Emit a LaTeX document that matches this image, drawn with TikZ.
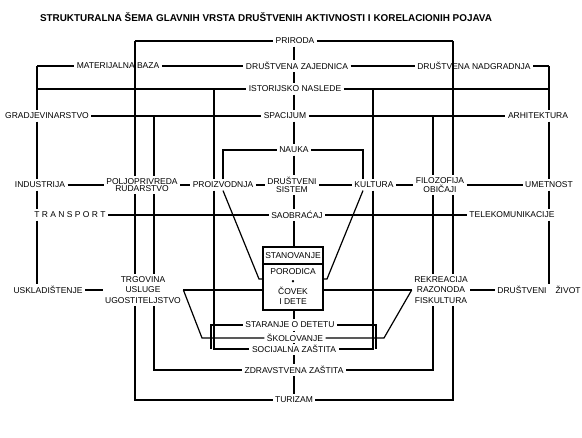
\documentclass[tikz,border=0pt]{standalone}
\usepackage{fontspec}
\setmainfont{Liberation Sans}
\begin{document}
\begin{tikzpicture}[x=1pt, y=-1pt, line width=1.2pt,
    lbl/.style={inner sep=2pt, align=center, font=\fontsize{8.5}{7.5}\selectfont},
    tall/.style={lbl, font=\fontsize{8.5}{10.5}\selectfont},
    cell/.style={draw, inner sep=0pt, outer sep=0pt, minimum width=60pt, align=center, font=\fontsize{8.5}{10}\selectfont}]
    \useasboundingbox (0,0) rectangle (582,438);

    \node[font=\bfseries\fontsize{9.9}{11}\selectfont] (title) at (266,17) {STRUKTURALNA ŠEMA GLAVNIH VRSTA DRUŠTVENIH AKTIVNOSTI I KORELACIONIH POJAVA};

    % corners and free ends of the lines
    \coordinate (cx) at (294,0);
    \coordinate (pl) at (135,41);  \coordinate (pr) at (453,41);
    \coordinate (ml) at (37,66);   \coordinate (mr) at (549,66);
    \coordinate (il) at (37,89);   \coordinate (ir) at (549,89);
    \coordinate (i1) at (214,89);  \coordinate (i2) at (373,89);
    \coordinate (g1) at (154,116); \coordinate (g2) at (433,116);
    \coordinate (nl) at (223,150); \coordinate (nr) at (363,150);
    \coordinate (dl) at (259,279); \coordinate (dr) at (327,279);
    \coordinate (bl) at (211,325); \coordinate (br) at (376,325);
    \coordinate (sl) at (202,338); \coordinate (sr) at (384,338);
    \coordinate (cl) at (214,349); \coordinate (cr) at (373,349);
    \coordinate (zl) at (154,370); \coordinate (zr) at (433,370);
    \coordinate (tl) at (135,400); \coordinate (tr) at (453,400);

    % upper rows
    \node[lbl] (prir) at (295,41) {PRIRODA};
    \node[lbl] (matb) at (118,66) {MATERIJALNA BAZA};
    \node[lbl] (drzaj) at (297,66) {DRUŠTVENA ZAJEDNICA};
    \node[lbl] (drnad) at (474,66) {DRUŠTVENA NADGRADNJA};
    \node[lbl] (istn) at (295,89) {ISTORIJSKO NASLEDE};
    \node[lbl] (gradj) at (47,116) {GRADJEVINARSTVO};
    \node[lbl] (spac) at (285,116) {SPACIJUM};
    \node[lbl] (arh) at (538,116) {ARHITEKTURA};
    \node[lbl] (nauka) at (294,150) {NAUKA};

    % middle rows
    \node[lbl] (indu) at (40,185) {INDUSTRIJA};
    \node[lbl] (polj) at (142,185) {POLJOPRIVREDA\\RUDARSTVO};
    \node[lbl] (proiz) at (223,185) {PROIZVODNJA};
    \node[lbl] (drsis) at (292,185) {DRUŠTVENI\\SISTEM};
    \node[lbl] (kult) at (374,185) {KULTURA};
    \node[lbl] (filoz) at (440,185) {FILOZOFIJA\\OBIČAJI};
    \node[lbl] (umet) at (549,185) {UMETNOST};
    \node[lbl] (trans) at (70,215) {T R A N S P O R T};
    \node[lbl] (saob) at (297,215) {SAOBRAĆAJ};
    \node[lbl] (tele) at (512,215) {TELEKOMUNIKACIJE};

    % centre box
    \node[cell, minimum height=17pt] (stan) at (293,255.5) {STANOVANJE};
    \node[cell, minimum height=46pt] (porod) at (293,287) {PORODICA\\•\\ČOVEK\\I DETE};

    % lower rows
    \node[lbl] (uskl) at (48,290) {USKLADIŠTENJE};
    \node[tall] (trg) at (143,290) {TRGOVINA\\USLUGE\\UGOSTITELJSTVO};
    \node[tall] (rekr) at (441,290) {REKREACIJA\\RAZONODA\\FISKULTURA};
    \node[lbl] (drziv) at (539,290) {DRUŠTVENI\hspace{9pt}ŽIVOT};
    \node[lbl] (star) at (290,325) {STARANJE O DETETU};
    \node[lbl] (skol) at (295,338) {ŠKOLOVANJE};
    \node[lbl] (socij) at (294,349) {SOCIJALNA ZAŠTITA};
    \node[lbl] (zdrav) at (294,370) {ZDRAVSTVENA ZAŠTITA};
    \node[lbl] (turiz) at (294,400) {TURIZAM};

    % horizontal links
    \draw (pl) -- (prir.west);
    \draw (prir.east) -- (pr);
    \draw (ml) -- (matb.west);
    \draw (matb.east) -- (drzaj.west);
    \draw (drzaj.east) -- (drnad.west);
    \draw (drnad.east) -- (mr);
    \draw (il) -- (istn.west);
    \draw (istn.east) -- (ir);
    \draw (gradj.east) -- (spac.west);
    \draw (spac.east) -- (arh.west);
    \draw (proiz.north -| nl) -- (nl) -- (nauka.west);
    \draw (nauka.east) -- (nr) -- (kult.north -| nr);
    \foreach \a/\b in {indu/polj, polj/proiz, proiz/drsis, drsis/kult, kult/filoz, filoz/umet, trans/saob, saob/tele, uskl/trg, rekr/drziv}
        \draw (\a.east) -- (\b.west);
    \draw (trg.east) -- (trg.east -| porod.west);
    \draw (porod.east |- rekr.west) -- (rekr.west);

    % central axis
    \foreach \a/\b in {prir/drzaj, drzaj/istn, istn/spac, spac/nauka, nauka/drsis, drsis/saob, saob/stan, porod/star, star/skol, skol/socij, socij/zdrav, zdrav/turiz}
        \draw (\a.south -| cx) -- (\b.north -| cx);

    % outer verticals
    \draw (ml) -- (gradj.north -| ml);
    \foreach \a/\b in {gradj/indu, indu/trans, trans/uskl}
        \draw (\a.south -| ml) -- (\b.north -| ml);
    \draw (mr) -- (arh.north -| mr);
    \foreach \a/\b in {arh/umet, umet/tele, tele/drziv}
        \draw (\a.south -| mr) -- (\b.north -| mr);

    % inner verticals, left
    \draw (pl) -- (polj.north -| pl);
    \draw (polj.south -| pl) -- (trg.north -| pl);
    \draw (trg.south -| pl) -- (tl) -- (turiz.west);
    \draw (g1) -- (polj.north -| g1);
    \draw (polj.south -| g1) -- (trg.north -| g1);
    \draw (trg.south -| g1) -- (zl) -- (zdrav.west);
    \draw (i1) -- (proiz.north -| i1);
    \draw (proiz.south -| i1) -- (cl) -- (socij.west);
    \draw (star.west) -- (bl) -- (bl |- socij.west);

    % inner verticals, right
    \draw (pr) -- (filoz.north -| pr);
    \draw (filoz.south -| pr) -- (rekr.north -| pr);
    \draw (rekr.south -| pr) -- (tr) -- (turiz.east);
    \draw (g2) -- (filoz.north -| g2);
    \draw (filoz.south -| g2) -- (rekr.north -| g2);
    \draw (rekr.south -| g2) -- (zr) -- (zdrav.east);
    \draw (i2) -- (kult.north -| i2);
    \draw (kult.south -| i2) -- (cr) -- (socij.east);
    \draw (star.east) -- (br) -- (br |- socij.east);

    % diagonals into the box and the schools
    \draw (proiz.south -| nl) -- (dl) -- (dl -| porod.west);
    \draw (kult.south -| nr) -- (dr) -- (dr -| porod.east);
    \draw (trg.east) -- (sl) -- (skol.west);
    \draw (rekr.west) -- (sr) -- (skol.east);
\end{tikzpicture}
\end{document}
